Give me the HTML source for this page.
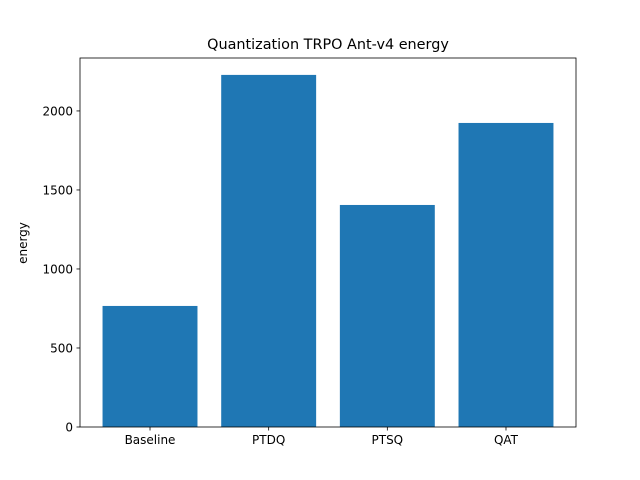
<!DOCTYPE html>
<html><head><meta charset="utf-8"><style>
body{margin:0;background:#fff;}
svg{display:block;font-family:"DejaVu Sans","Liberation Sans",sans-serif;}
</style></head><body>
<svg id="chart" width="640" height="480" xmlns="http://www.w3.org/2000/svg">
<rect width="640" height="480" fill="#fff"/>
<text x="328" y="49" font-size="14.4" text-anchor="middle">Quantization TRPO Ant-v4 energy</text>
<text transform="translate(27,243) rotate(-90)" font-size="12" text-anchor="middle">energy</text>
<g id="bars"></g>
<g id="axes"></g>
</svg>
<script>
const categories = ["Baseline","PTDQ","PTSQ","QAT"];
const values = [766, 2228, 1405, 1924];
const yTicks = [0, 500, 1000, 1500, 2000];

const L=80,R=576,T=58,B=427;
const yMax=2335, xMin=-0.59, xMax=3.59;
const ys=v=>B-(v/yMax)*(B-T);
const xs=i=>L+(i-xMin)/(xMax-xMin)*(R-L);
const NS="http://www.w3.org/2000/svg";
const bars=document.getElementById('bars'), axes=document.getElementById('axes');
function mk(tag,attrs,parent){const e=document.createElementNS(NS,tag);for(const k in attrs)e.setAttribute(k,attrs[k]);parent.appendChild(e);return e;}

values.forEach((v,i)=>{
  const x0=xs(i-0.4), x1=xs(i+0.4);
  const r=mk('rect',{x:x0,y:ys(v),width:x1-x0,height:B-ys(v),fill:'#1f77b4'},bars);
  
  
  mk('line',{x1:xs(i),x2:xs(i),y1:B,y2:B+3.5,stroke:'#000','stroke-width':0.8},axes);
  const t=mk('text',{x:xs(i),y:B+17,'font-size':12,'text-anchor':'middle'},axes);
  t.textContent=categories[i];
  
  
});
yTicks.forEach(v=>{
  mk('line',{x1:L-3.5,x2:L,y1:ys(v),y2:ys(v),stroke:'#000','stroke-width':0.8},axes);
  const t=mk('text',{x:L-7,y:ys(v)+4.5,'font-size':12,'text-anchor':'end'},axes);
  t.textContent=v;
  
  
});
const f=mk('rect',{x:L,y:T,width:R-L,height:B-T,fill:'none',stroke:'#000','stroke-width':0.8},axes);


</script>
</body></html>
